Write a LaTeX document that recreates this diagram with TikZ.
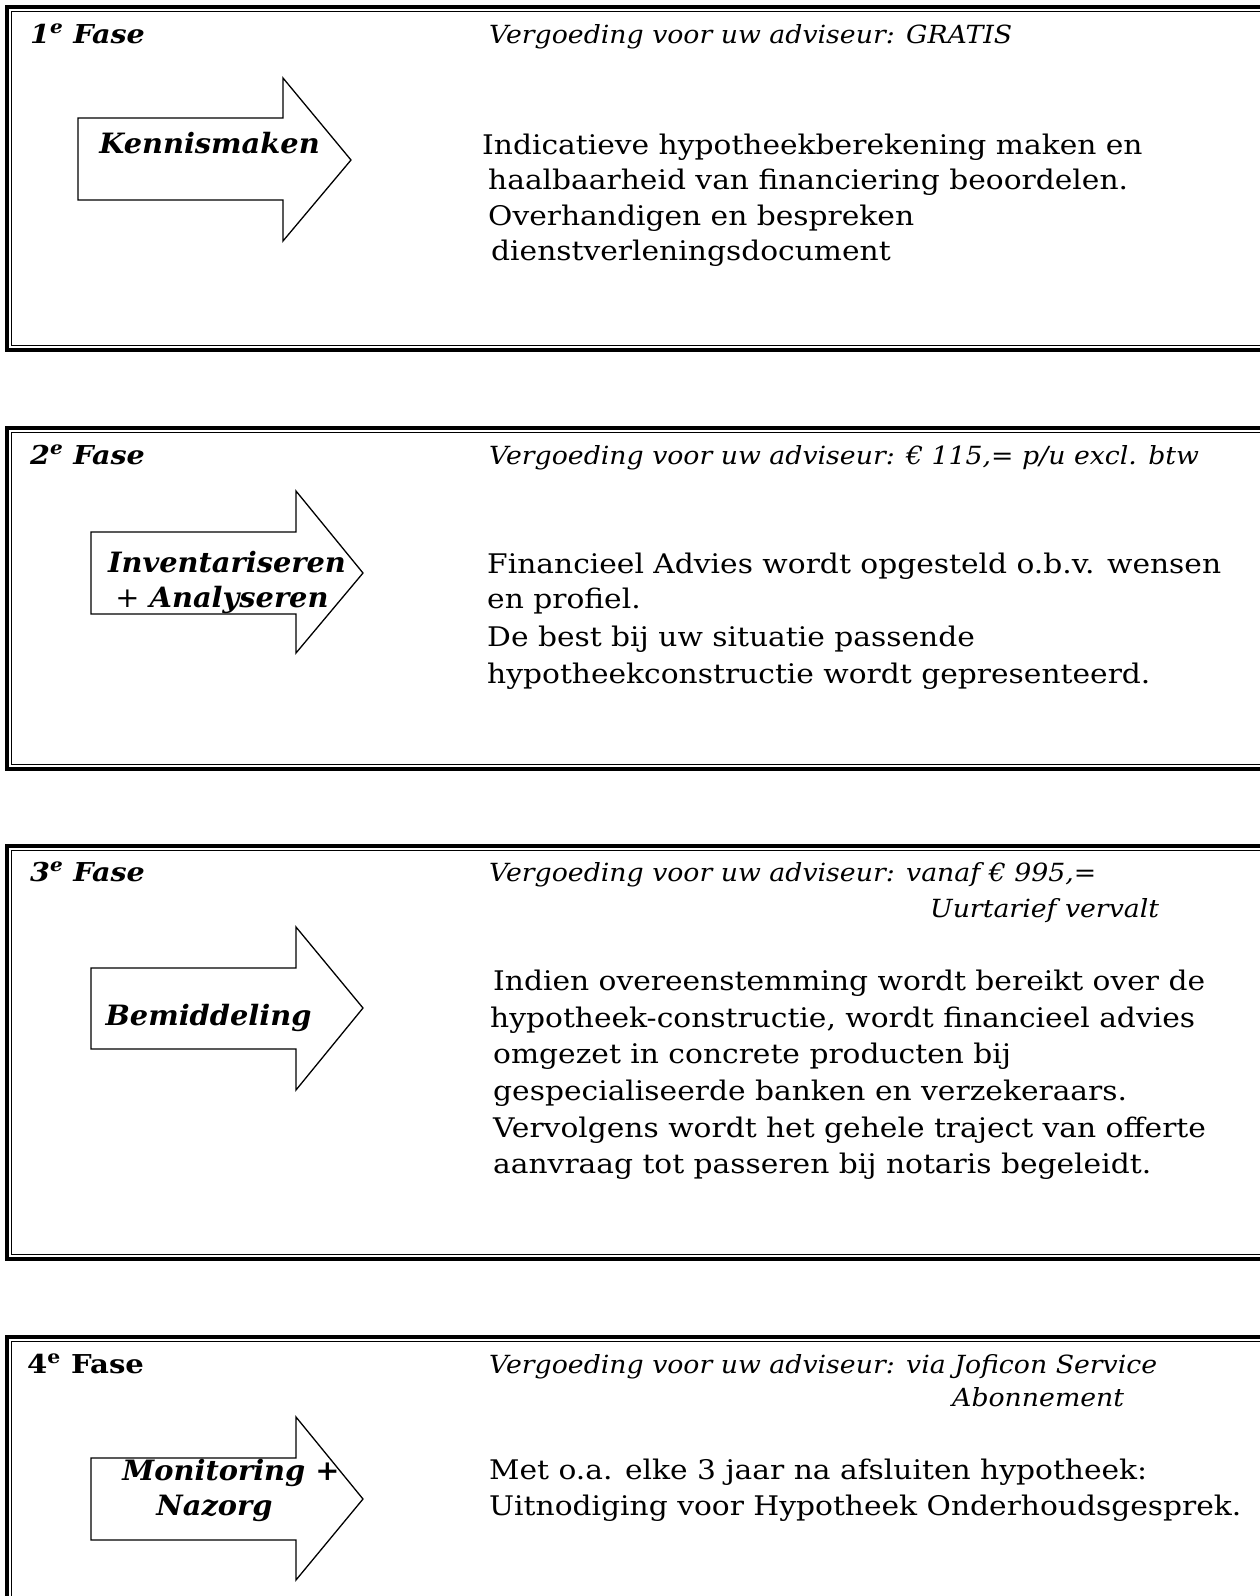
\documentclass[tikz,border=0pt]{standalone}
\usepackage{fontspec}
\setmainfont{DejaVu Serif}
\newfontfamily\bodyfont[FakeStretch=1.10]{DejaVu Serif}
\newfontfamily\hdrfont[FakeStretch=1.07]{DejaVu Serif}
\newfontfamily\lblfont[FakeStretch=1.03]{DejaVu Serif}
\newfontfamily\fasefont[FakeStretch=1.10]{DejaVu Serif}
\newfontfamily\faseupfont[FakeStretch=1.12]{DejaVu Serif}
\tikzset{
  hdr/.style={anchor=base west, inner sep=0pt, font=\hdrfont\itshape\fontsize{25}{30}\selectfont},
  body/.style={anchor=base west, inner sep=0pt, font=\bodyfont\fontsize{27}{35}\selectfont},
  fase/.style={anchor=base west, inner sep=0pt, font=\fasefont\bfseries\itshape\fontsize{26}{30}\selectfont},
  faseup/.style={anchor=base west, inner sep=0pt, font=\faseupfont\bfseries\fontsize{26}{30}\selectfont},
  lbl/.style={anchor=base, inner sep=0pt, font=\lblfont\bfseries\itshape\fontsize{28}{35}\selectfont},
  thickb/.style={line width=3.8pt, line cap=butt, line join=miter},
  thinb/.style={line width=1.3pt, line cap=butt, line join=miter},
  arrowshape/.style={draw, line width=1.3pt, fill=white, line join=miter},
}
\begin{document}
\begin{tikzpicture}[x=1pt, y=-1pt]
\useasboundingbox (0,0) rectangle (1260,1596);
\fill[white] (0,0) rectangle (1260,1596);
\clip (0,0) rectangle (1260,1596);

% phase boxes (double border, open to the right)
\foreach \t/\b in {5/352, 426/771, 844/1261} {
  \draw[thickb] (1280,\t+1.9) -- (6.9,\t+1.9) -- (6.9,\b-1.9) -- (1280,\b-1.9);
  \draw[thinb] (1280,\t+6.4) -- (11.4,\t+6.4) -- (11.4,\b-6.4) -- (1280,\b-6.4);
}
\draw[thickb] (1280,1336.9) -- (6.9,1336.9) -- (6.9,1620);
\draw[thinb] (1280,1341.4) -- (11.4,1341.4) -- (11.4,1620);

% arrows
\draw[arrowshape] (78,118) -- (283,118) -- (283,78) -- (351,160) -- (283,241) -- (283,200) -- (78,200) -- cycle;
\draw[arrowshape] (91,532) -- (296,532) -- (296,491) -- (363,573) -- (296,653) -- (296,614) -- (91,614) -- cycle;
\draw[arrowshape] (91,968) -- (296,968) -- (296,927) -- (363,1008) -- (296,1090) -- (296,1049) -- (91,1049) -- cycle;
\draw[arrowshape] (91,1458) -- (296,1458) -- (296,1417) -- (363,1499) -- (296,1580) -- (296,1540) -- (91,1540) -- cycle;

% phase 1
\node[fase] (f1) at (30,43) {1\textsuperscript{e} Fase};
\node[hdr] (h1) at (489,43) {Vergoeding voor uw adviseur: GRATIS};
\node[lbl] (l1) at (209.5,153) {Kennismaken};
\node[body] (b1a) at (482,154) {Indicatieve hypotheekberekening maken en};
\node[body] (b1b) at (488,189.5) {haalbaarheid van financiering beoordelen.};
\node[body] (b1c) at (488,225) {Overhandigen en bespreken};
\node[body] (b1d) at (491,260.5) {dienstverleningsdocument};

% phase 2
\node[fase] (f2) at (30,464) {2\textsuperscript{e} Fase};
\node[hdr] (h2) at (489,464) {Vergoeding voor uw adviseur: € 115,= p/u excl. btw};
\node[lbl] (l2a) at (227,572) {Inventariseren};
\node[lbl] (l2b) at (222,607) {{\mdseries\upshape +} Analyseren};
\node[body] (b2a) at (487,573) {Financieel Advies wordt opgesteld o.b.v. wensen};
\node[body] (b2b) at (487,608) {en profiel.};
\node[body] (b2c) at (487,646) {De best bij uw situatie passende};
\node[body] (b2d) at (487,683) {hypotheekconstructie wordt gepresenteerd.};

% phase 3
\node[fase] (f3) at (30,881) {3\textsuperscript{e} Fase};
\node[hdr] (h3a) at (489,881) {Vergoeding voor uw adviseur: vanaf € 995,=};
\node[hdr] (h3b) at (930,917) {Uurtarief vervalt};
\node[lbl] (l3) at (208.5,1025) {Bemiddeling};
\node[body] (b3a) at (493,990) {Indien overeenstemming wordt bereikt over de};
\node[body] (b3b) at (490,1027) {hypotheek-constructie, wordt financieel advies};
\node[body] (b3c) at (493,1063) {omgezet in concrete producten bij};
\node[body] (b3d) at (493,1100) {gespecialiseerde banken en verzekeraars.};
\node[body] (b3e) at (493,1137) {Vervolgens wordt het gehele traject van offerte};
\node[body] (b3f) at (493,1173) {aanvraag tot passeren bij notaris begeleidt.};

% phase 4
\node[faseup] (f4) at (27,1373) {4\textsuperscript{e} Fase};
\node[hdr] (h4a) at (489,1373) {Vergoeding voor uw adviseur: via Joficon Service};
\node[hdr] (h4b) at (952,1406) {Abonnement};
\node[lbl] (l4a) at (231,1480) {Monitoring +};
\node[lbl] (l4b) at (214.5,1515) {Nazorg};
\node[body] (b4a) at (489,1479) {Met o.a. elke 3 jaar na afsluiten hypotheek:};
\node[body] (b4b) at (489,1515) {Uitnodiging voor Hypotheek Onderhoudsgesprek.};
\end{tikzpicture}
\end{document}
